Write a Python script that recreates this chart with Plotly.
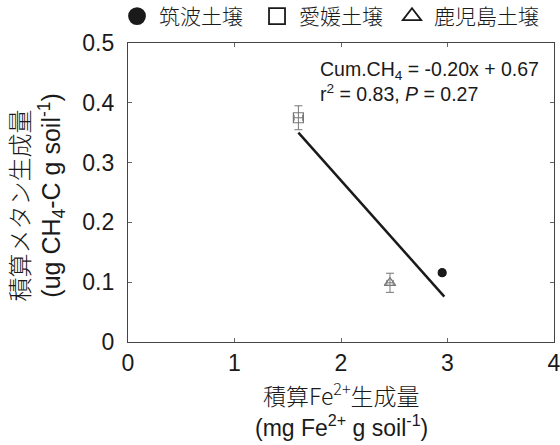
import plotly.graph_objects as go

# Data
soil_names = ["筑波土壌", "愛媛土壌", "鹿児島土壌"]
fe_x = [2.95, 1.60, 2.46]
ch4_y = [0.116, 0.375, 0.099]
ch4_err = [0.004, 0.020, 0.016]
fe_err = [0.02, 0.04, 0.03]
symbols = ["circle", "square-open", "triangle-up-open"]
fit_x = [1.60, 2.97]
fit_y = [0.350, 0.076]

FONT = "Liberation Sans, Noto Sans CJK JP, Arial, sans-serif"
CJK = "Noto Sans CJK JP, Liberation Sans, sans-serif"

fig = go.Figure()

# regression line
fig.add_trace(go.Scatter(x=fit_x, y=fit_y, mode="lines",
                         line=dict(color="#1a1a1a", width=2.5),
                         showlegend=False, hoverinfo="skip"))

marker_colors = ["#1a1a1a", "#777777", "#777777"]
marker_sizes = [8, 10, 10]
for i in range(3):
    fig.add_trace(go.Scatter(
        x=[fe_x[i]], y=[ch4_y[i]], mode="markers",
        marker=dict(symbol=symbols[i], size=marker_sizes[i], color=marker_colors[i],
                    line=dict(color=marker_colors[i], width=1.2)),
        error_y=dict(type="data", array=[ch4_err[i]], color="#777777", thickness=1, width=4),
        error_x=dict(type="data", array=[fe_err[i]], color="#777777", thickness=1, width=3),
        showlegend=False))

# legend-only traces, one legend box per soil
leg_symbols = ["circle", "square-open", "triangle-up-open"]
leg_ids = ["legend", "legend2", "legend3"]
for i in range(3):
    fig.add_trace(go.Scatter(
        x=[None], y=[None], mode="markers", name=soil_names[i], legend=leg_ids[i],
        marker=dict(symbol=leg_symbols[i], size=18, color="#1a1a1a",
                    line=dict(color="#1a1a1a", width=1.8))))

axis_common = dict(showline=True, linecolor="#444444", linewidth=1.2, mirror="ticks",
                   ticks="inside", ticklen=4, tickcolor="#666666", tickwidth=1,
                   showgrid=False, zeroline=False, automargin=False,
                   tickfont=dict(family=FONT, size=23, color="#1a1a1a"))


def leg(xpos):
    return dict(orientation="h", x=xpos, y=0.963, xref="container", yref="container",
                xanchor="left", yanchor="middle",
                font=dict(family=CJK, size=21, color="#1a1a1a", weight=300),
                itemsizing="trace", itemwidth=34, bgcolor="rgba(0,0,0,0)")


fig.update_layout(
    width=560, height=445,
    margin=dict(l=128, r=6, t=43, b=103, autoexpand=False),
    plot_bgcolor="white", paper_bgcolor="white",
    xaxis=dict(range=[0, 4], tickvals=[0, 1, 2, 3, 4], ticktext=["0", "1", "2", "3", "4"],
               ticklabelstandoff=0, ticklabeloverflow="allow", **axis_common),
    yaxis=dict(range=[0, 0.5], tickvals=[0, 0.1, 0.2, 0.3, 0.4, 0.5],
               ticktext=["0", "0.1", "0.2", "0.3", "0.4", "0.5"],
               ticklabelstandoff=8, **axis_common),
    legend=leg(0.2054),
    legend2=leg(0.4554),
    legend3=leg(0.6964),
    annotations=[
        dict(text="Cum.CH<sub>4</sub> = -0.20x + 0.67<br>r<sup>2</sup> = 0.83, <i>P</i> = 0.27",
             xref="paper", yref="paper", x=0.445, y=0.955, xanchor="left", yanchor="top",
             align="left", showarrow=False,
             font=dict(family=FONT, size=19.5, color="#1a1a1a")),
        dict(text="積算Fe<sup>2+</sup>生成量", xref="paper", yref="paper",
             x=0.5, y=-0.175, xanchor="center", yanchor="middle", showarrow=False,
             font=dict(family=CJK, size=23, color="#1a1a1a", weight=300)),
        dict(text="(mg Fe<sup>2+</sup> g soil<sup>-1</sup>)", xref="paper", yref="paper",
             x=0.5, y=-0.282, xanchor="center", yanchor="middle", showarrow=False,
             font=dict(family=FONT, size=23, color="#1a1a1a")),
        dict(text="積算メタン生成量", xref="paper", yref="paper",
             x=-0.257, y=0.455, xanchor="center", yanchor="middle", showarrow=False,
             textangle=-90,
             font=dict(family=CJK, size=24, color="#1a1a1a", weight=300)),
        dict(text="(ug CH<sub>4</sub>-C g soil<sup>-1</sup>)", xref="paper", yref="paper",
             x=-0.178, y=0.49, xanchor="center", yanchor="middle", showarrow=False,
             textangle=-90,
             font=dict(family=FONT, size=25, color="#1a1a1a")),
    ],
)

fig.write_html("out.html")
